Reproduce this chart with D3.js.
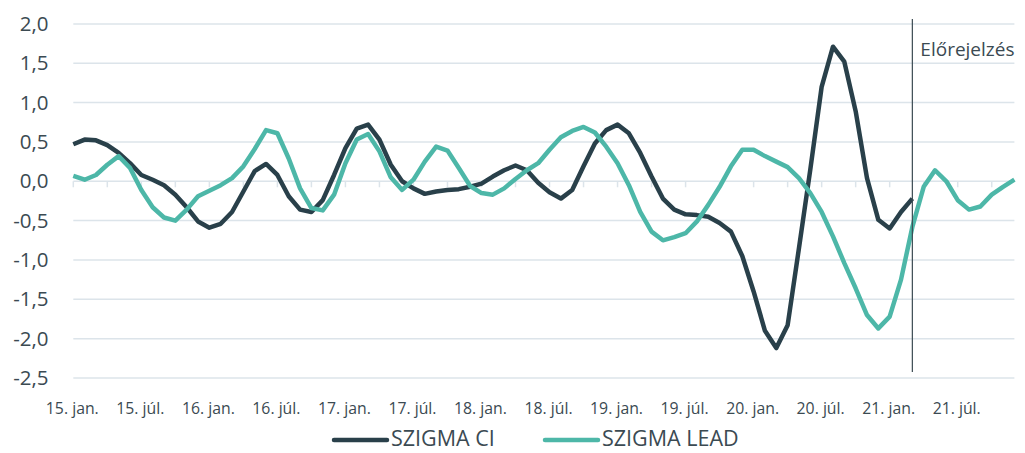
<!DOCTYPE html>
<html>
<head>
<meta charset="utf-8">
<script src="https://cdn.jsdelivr.net/npm/d3@7"></script>
<style>
html,body{margin:0;padding:0;background:#fff;}
svg{display:block;font-family:"Open Sans",sans-serif;}
</style>
</head>
<body>
<svg id="chart" width="1025" height="453"></svg>
<script>
// monthly data, Jan 2015 – Dec 2021
const startYear = 2015, monthCount = 84;
const szigmaCI = [0.47,0.53,0.52,0.46,0.36,0.23,0.08,0.02,-0.05,-0.17,-0.33,-0.51,
  -0.59,-0.54,-0.39,-0.13,0.13,0.22,0.08,-0.19,-0.36,-0.39,-0.24,0.08,
  0.42,0.67,0.72,0.53,0.21,0.0,-0.09,-0.16,-0.13,-0.11,-0.10,-0.07,
  -0.03,0.06,0.14,0.20,0.14,-0.02,-0.14,-0.22,-0.11,0.19,0.48,0.65,
  0.72,0.61,0.36,0.06,-0.22,-0.36,-0.42,-0.43,-0.45,-0.53,-0.64,-0.95,
  -1.40,-1.90,-2.12,-1.83,-0.85,0.15,1.20,1.71,1.52,0.89,0.04,-0.49,
  -0.60,-0.39,-0.22];
const szigmaLEAD = [0.07,0.02,0.08,0.21,0.32,0.17,-0.11,-0.33,-0.46,-0.50,-0.36,-0.19,
  -0.12,-0.05,0.04,0.19,0.41,0.65,0.61,0.29,-0.09,-0.34,-0.37,-0.17,
  0.23,0.53,0.60,0.38,0.05,-0.11,0.02,0.25,0.44,0.39,0.17,-0.06,
  -0.15,-0.17,-0.09,0.03,0.14,0.23,0.40,0.56,0.64,0.69,0.62,0.44,
  0.23,-0.05,-0.39,-0.64,-0.75,-0.71,-0.66,-0.51,-0.30,-0.07,0.19,0.40,
  0.40,0.32,0.25,0.18,0.04,-0.15,-0.39,-0.70,-1.04,-1.36,-1.70,-1.87,
  -1.72,-1.25,-0.58,-0.07,0.14,0.00,-0.24,-0.36,-0.32,-0.17,-0.07,0.02];
const yTicks = [2.0,1.5,1.0,0.5,0.0,-0.5,-1.0,-1.5,-2.0,-2.5];
const xTickLabels = ["15. jan.","15. júl.","16. jan.","16. júl.","17. jan.","17. júl.",
  "18. jan.","18. júl.","19. jan.","19. júl.","20. jan.","20. júl.","21. jan.","21. júl."];
const forecastIndex = 74; // March 2021
const forecastLabel = "Előrejelzés";
const seriesNames = ["SZIGMA CI","SZIGMA LEAD"];

const colors = {ci:"#29404a", lead:"#4db7a8", grid:"#dce4ea", text:"#3b4a52", vline:"#3a4a52"};
const months = d3.range(monthCount);

const svg = d3.select("#chart");
const x = d3.scaleLinear().domain([0, monthCount-1]).range([73.3, 1014.4]);
const y = d3.scaleLinear().domain([-2.5, 2.0]).range([378, 23.9]);

// gridlines
svg.append("g").selectAll("line").data(yTicks).join("line")
  .attr("x1", x(0)).attr("x2", x(monthCount-1))
  .attr("y1", d => y(d)).attr("y2", d => y(d))
  .attr("stroke", colors.grid).attr("stroke-width", 1.5);

// y labels
const yAxis = d3.axisLeft(y).tickValues(yTicks).tickSize(0).tickPadding(0)
  .tickFormat(d => d3.format(".1f")(d).replace(".", ",").replace("−","-"));
const gy = svg.append("g").attr("transform", "translate(48.5,0)").call(yAxis);
gy.select(".domain").remove();
gy.selectAll("text").attr("fill", colors.text).style("font-size","20.5px")
  .style("font-family","'Open Sans',sans-serif");

// zero axis tick marks every quarter
const qTicks = months.filter(i => i % 3 === 0);
svg.append("g").selectAll("line").data(qTicks).join("line")
  .attr("x1", d => x(d)).attr("x2", d => x(d))
  .attr("y1", y(0)).attr("y2", y(0) + 6)
  .attr("stroke", colors.grid).attr("stroke-width", 1.5);

// x labels every half-year
const labelIdx = months.filter(i => i % 6 === 0);
svg.append("g").selectAll("text").data(labelIdx).join("text")
  .attr("x", d => x(d) - 1).attr("y", 413.5)
  .attr("text-anchor", "middle")
  .attr("fill", colors.text).style("font-size","15.8px")
  .text((d,i) => xTickLabels[i]);

// lines
const line = d3.line().x((d,i) => x(i)).y(d => y(d));
svg.append("path").datum(szigmaCI).attr("d", line)
  .attr("fill","none").attr("stroke", colors.ci).attr("stroke-width", 4.5)
  .attr("stroke-linejoin","round");
svg.append("path").datum(szigmaLEAD).attr("d", line)
  .attr("fill","none").attr("stroke", colors.lead).attr("stroke-width", 4.5)
  .attr("stroke-linejoin","round");

// forecast divider
svg.append("line")
  .attr("x1", x(forecastIndex)).attr("x2", x(forecastIndex))
  .attr("y1", 19).attr("y2", 372)
  .attr("stroke", colors.vline).attr("stroke-width", 1.2);
svg.append("text").attr("x", x(forecastIndex) + 8).attr("y", 56)
  .attr("fill", colors.text).style("font-size","19px").text(forecastLabel);

// legend
const legend = [
  {name: seriesNames[0], color: colors.ci, x0: 332},
  {name: seriesNames[1], color: colors.lead, x0: 543}
];
const lg = svg.append("g").selectAll("g").data(legend).join("g");
lg.append("line").attr("x1", d => d.x0 + 2).attr("x2", d => d.x0 + 55)
  .attr("y1", 440).attr("y2", 440)
  .attr("stroke", d => d.color).attr("stroke-width", 4.5).attr("stroke-linecap","round");
lg.append("text").attr("x", d => d.x0 + 59).attr("y", 446)
  .attr("fill", colors.text).style("font-size","21.5px").text(d => d.name);
</script>
</body>
</html>
